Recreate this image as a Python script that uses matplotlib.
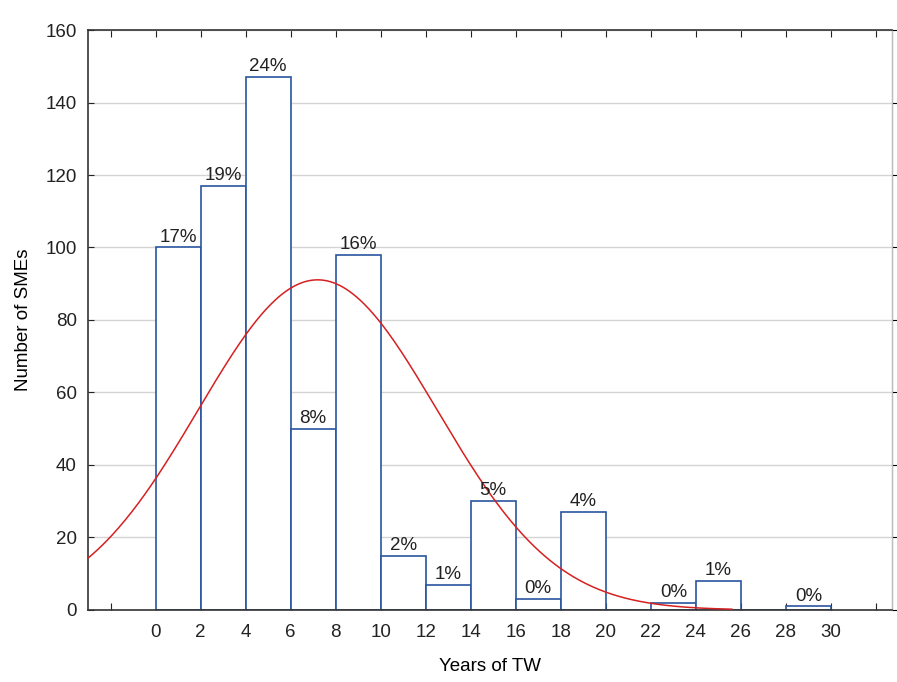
import numpy as np
import matplotlib.pyplot as plt

# histogram of years of TW
bin_left = [0, 2, 4, 6, 8, 10, 12, 14, 16, 18, 20, 22, 24, 26, 28]
counts = [100, 117, 147, 50, 98, 15, 7, 30, 3, 27, 0, 2, 8, 0, 1]
pct_labels = ['17%', '19%', '24%', '8%', '16%', '2%', '1%', '5%', '0%', '4%', '', '0%', '1%', '', '0%']
xtick_labels = [str(v) for v in range(0, 31, 2)]

# fitted normal curve parameters
mu = 7.2
sigma = 5.3
n_total = sum(counts)
bin_w = 2

plt.rc('font', family=['Liberation Sans', 'DejaVu Sans'], size=13.5)
fig = plt.figure(figsize=(8.97, 6.82), dpi=100)
ax = fig.add_axes([0.0981, 0.1056, 0.896, 0.8504])

ax.set_axisbelow(True)
ax.yaxis.grid(True, color='#d4d4d4', linewidth=1)

ax.bar(bin_left, counts, width=bin_w, align='edge', facecolor='white',
       edgecolor='#2a55a0', linewidth=1.2, zorder=2)
for x, c, lab in zip(bin_left, counts, pct_labels):
    if lab:
        ax.text(x + bin_w / 2, c + 0.5, lab, ha='center', va='bottom', color='#222222', zorder=4)

xs = np.linspace(-3, 25.6, 400)
ys = n_total * bin_w / (sigma * np.sqrt(2 * np.pi)) * np.exp(-0.5 * ((xs - mu) / sigma) ** 2)
ax.plot(xs, ys, color='#d62020', linewidth=1.1, zorder=3)

ax.set_xlim(-3, 32.7)
ax.set_ylim(0, 160)
ax.set_xticks(range(-2, 33, 2))
ax.set_xticklabels([''] + xtick_labels + [''])
ax.set_yticks(range(0, 161, 20))
ax.tick_params(axis='x', direction='in', top=True, length=5, pad=10, colors='#222222')
ax.tick_params(axis='y', direction='in', left=True, right=False, length=4, pad=8, colors='#222222')
ax.secondary_yaxis('right').set_yticks(range(0, 161, 20), labels=[])
for s in ['left', 'top', 'bottom']:
    ax.spines[s].set_color('#333333')
    ax.spines[s].set_linewidth(1.2)
ax.spines['right'].set_color('#bbbbbb')

ax.set_xlabel('Years of TW', labelpad=12)
ax.set_ylabel('Number of SMEs', labelpad=10)

plt.savefig('out.png', dpi=100)
plt.close()
